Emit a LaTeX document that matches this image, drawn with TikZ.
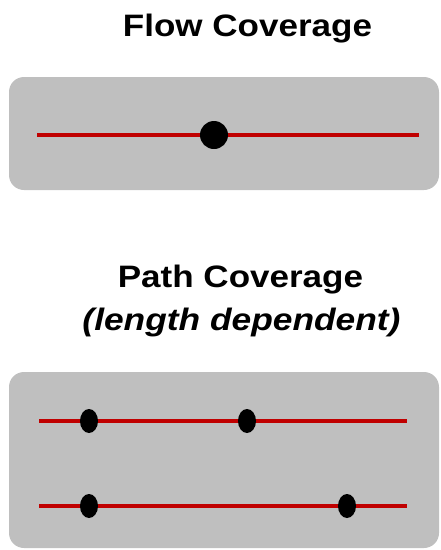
\documentclass[tikz,border=0pt]{standalone}
\usepackage{fontspec}
\usepackage{graphicx}
\setmainfont{Liberation Sans}
\usetikzlibrary{shapes.geometric}
\definecolor{boxgray}{HTML}{BFBFBF}
\definecolor{linered}{HTML}{C00000}
\tikzset{
  panel/.style={fill=boxgray, draw=none, rounded corners=15pt},
  redline/.style={draw=linered, line width=4.5pt},
  bigdot/.style={circle, fill=black, inner sep=0pt, minimum size=28pt},
  smalldot/.style={ellipse, fill=black, inner sep=0pt, minimum width=18pt, minimum height=24pt},
  title/.style={anchor=base, inner sep=0pt, font=\fontsize{31}{36}\selectfont\bfseries}
}
\begin{document}
\begin{tikzpicture}[x=1pt,y=-1pt]
\useasboundingbox (0,0) rectangle (440,550);
% titles
\node[title] (t1) at (247.5,36) {\scalebox{1.13}[1]{Flow Coverage}};
\node[title] (t2) at (240.5,287) {\scalebox{1.13}[1]{Path Coverage}};
\node[title] (t3) at (241.5,330.5) {\scalebox{1.14}[1]{\itshape(length dependent)}};
% top panel
\path[panel] (9,77) rectangle (439,190);
\coordinate (a1) at (37,135);
\coordinate (a2) at (419,135);
\draw[redline] (a1) -- (a2);
\node[bigdot] (d1) at (214,135) {};
% bottom panel
\path[panel] (9,372) rectangle (439,548);
\coordinate (b1) at (39,421);
\coordinate (b2) at (407,421);
\coordinate (c1) at (39,506);
\coordinate (c2) at (407,506);
\draw[redline] (b1) -- (b2);
\draw[redline] (c1) -- (c2);
\node[smalldot] (e1) at (89,421) {};
\node[smalldot] (e2) at (247,421) {};
\node[smalldot] (e3) at (89,506) {};
\node[smalldot] (e4) at (347,506) {};
\end{tikzpicture}
\end{document}
